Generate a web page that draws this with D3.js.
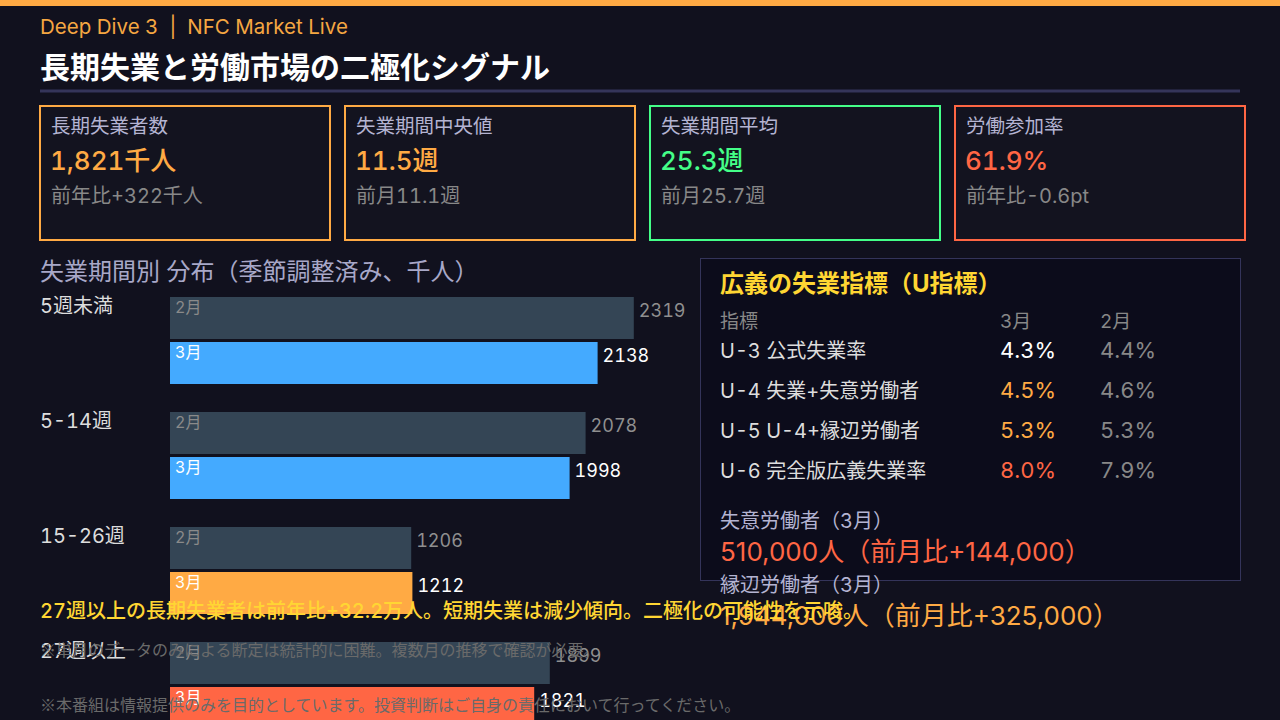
<!DOCTYPE html>
<html><head><meta charset="utf-8">
<script src="https://cdn.jsdelivr.net/npm/d3@7"></script>
<style>
html,body{margin:0;padding:0;background:#11111e;}
svg{display:block;font-family:Inter,'Noto Sans CJK JP','Noto Sans',sans-serif;font-variant-numeric:tabular-nums;}
.cjk{font-family:'Noto Sans CJK JP',sans-serif;}
.prop{font-variant-numeric:normal;}
</style></head>
<body>
<svg id="c" width="1280" height="720"></svg>
<script>
// ---- data ----
const categories = ["5週未満", "5-14週", "15-26週", "27週以上"];
const months = ["2月", "3月"];
const febValues = [2319, 2078, 1206, 1899];
const marValues = [2138, 1998, 1212, 1821];

const kpiLabels = ["長期失業者数", "失業期間中央値", "失業期間平均", "労働参加率"];
const kpiValues = ["1,821千人", "11.5週", "25.3週", "61.9%"];
const kpiSubs = ["前年比+322千人", "前月11.1週", "前月25.7週", "前年比-0.6pt"];

const uLabels = ["U-3 公式失業率", "U-4 失業+失意労働者", "U-5 U-4+縁辺労働者", "U-6 完全版広義失業率"];
const uMar = [4.3, 4.5, 5.3, 8.0];
const uFeb = [4.4, 4.6, 5.3, 7.9];

const extraLabels = ["失意労働者（3月）", "縁辺労働者（3月）"];
const extraValues = ["510,000人（前月比+144,000）", "1,944,000人（前月比+325,000）"];

// ---- styles ----
const ORANGE = "#ffaa44", GREEN = "#44ff88", RED = "#ff6644", BLUE = "#44aaff", YELLOW = "#ffd633";
const kpiColors = [ORANGE, ORANGE, GREEN, RED];
const marBarColors = [BLUE, BLUE, ORANGE, RED];
const uMarColors = ["#ffffff", ORANGE, ORANGE, RED];

const svg = d3.select("#c");
svg.append("rect").attr("width", 1280).attr("height", 720).attr("fill", "#11111e");
svg.append("rect").attr("width", 1280).attr("height", 6).attr("fill", ORANGE);

svg.append("text").attr("x", 40).attr("y", 34).attr("fill", "#f5a742")
  .attr("font-size", 20.5).style("white-space", "pre").text("Deep Dive 3  |  NFC Market Live");
svg.append("text").attr("x", 40).attr("y", 78).attr("fill", "#ffffff")
  .attr("font-size", 30).attr("font-weight", 700).text("長期失業と労働市場の二極化シグナル");
svg.append("rect").attr("x", 40).attr("y", 89.5).attr("width", 1200).attr("height", 3).attr("fill", "#35355a");

// ---- KPI cards ----
const cardX = d3.scaleBand().domain(d3.range(kpiLabels.length)).range([40, 1245]).paddingInner(15 / 305).paddingOuter(0);
const cards = svg.selectAll("g.card").data(kpiLabels).join("g").attr("class", "card")
  .attr("transform", (d, i) => `translate(${cardX(i)},106)`);
cards.append("rect").attr("width", cardX.bandwidth()).attr("height", 134)
  .attr("fill", "#13131f").attr("stroke", (d, i) => kpiColors[i]).attr("stroke-width", 2);
cards.append("text").attr("x", 11).attr("y", 27).attr("font-size", 19.5).attr("fill", "#b4b4d2").text(d => d);
cards.append("text").attr("x", 10).attr("y", 64).attr("font-size", 26).attr("font-weight", 500)
  .attr("fill", (d, i) => kpiColors[i]).text((d, i) => kpiValues[i]);
cards.append("text").attr("x", 11).attr("y", 97).attr("font-size", 20).attr("fill", "#888888").text((d, i) => kpiSubs[i]);

// ---- bar chart ----
svg.append("text").attr("x", 40).attr("y", 280).attr("font-size", 24).attr("fill", "#a8a8c8")
  .text("失業期間別 分布（季節調整済み、千人）");

const x = d3.scaleLinear().domain([0, 2500]).range([170, 670]);
const y = d3.scaleBand().domain(categories).range([297, 297 + 115 * categories.length]);
const sub = d3.scaleBand().domain(months).range([0, 87]).paddingInner(3 / 45);

const groups = svg.selectAll("g.grp").data(categories).join("g").attr("class", "grp")
  .attr("transform", d => `translate(0,${y(d)})`);
groups.append("text").attr("x", 40).attr("y", 16).attr("font-size", 20).attr("fill", "#dddddd").text(d => d);

groups.each(function (cat, i) {
  const g = d3.select(this);
  const rows = [
    { m: "2月", v: febValues[i], fill: "#344555", lab: "#8a8a8a", val: "#8f8f8f" },
    { m: "3月", v: marValues[i], fill: marBarColors[i], lab: "#ffffff", val: "#ffffff" }
  ];
  rows.forEach(r => {
    g.append("rect").attr("x", x(0)).attr("y", sub(r.m)).attr("width", x(r.v) - x(0))
      .attr("height", sub.bandwidth()).attr("fill", r.fill);
    g.append("text").attr("x", x(0) + 5).attr("y", sub(r.m) + 16).attr("font-size", 16)
      .attr("fill", r.lab).text(r.m);
    g.append("text").attr("x", x(r.v) + 5).attr("y", sub(r.m) + 20).attr("font-size", 18)
      .attr("fill", r.val).text(r.v);
  });
});

// ---- right panel ----
const panel = svg.append("g").attr("transform", "translate(700,258)");
panel.append("rect").attr("x", 0.5).attr("y", 0.5).attr("width", 540).attr("height", 322)
  .attr("fill", "#0c0c1b").attr("stroke", "#34345a").attr("stroke-width", 1);
panel.append("text").attr("x", 20).attr("y", 34).attr("font-size", 24).attr("font-weight", 700)
  .attr("fill", YELLOW).text("広義の失業指標（U指標）");
const colX = { label: 20, mar: 300, feb: 400 };
panel.append("text").attr("x", colX.label).attr("y", 70).attr("font-size", 19).attr("fill", "#888").text("指標");
panel.append("text").attr("x", colX.mar).attr("y", 70).attr("font-size", 19).attr("fill", "#888").text("3月");
panel.append("text").attr("x", colX.feb).attr("y", 70).attr("font-size", 19).attr("fill", "#888").text("2月");

const rowY = d3.scaleLinear().domain([0, 1]).range([100, 140]);
const fmt = d3.format(".1f");
uLabels.forEach((lab, i) => {
  panel.append("text").attr("x", colX.label).attr("y", rowY(i)).attr("font-size", 20).attr("fill", "#dddddd").text(lab);
  panel.append("text").attr("x", colX.mar).attr("y", rowY(i)).attr("font-size", 22).attr("fill", uMarColors[i]).text(fmt(uMar[i]) + "%");
  panel.append("text").attr("x", colX.feb).attr("y", rowY(i)).attr("font-size", 22).attr("fill", "#888").text(fmt(uFeb[i]) + "%");
});

const extraColors = [RED, ORANGE];
extraLabels.forEach((lab, i) => {
  panel.append("text").attr("x", 20).attr("y", 270 + i * 64).attr("font-size", 20).attr("fill", "#b4b4d2").text(lab);
  panel.append("text").attr("class", "prop").attr("x", 20).attr("y", 303 + i * 64).attr("font-size", 26).attr("fill", extraColors[i]).text(extraValues[i]);
});

// ---- bottom notes ----
svg.append("text").attr("x", 40).attr("y", 618).attr("font-size", 20).attr("font-weight", 500).attr("fill", YELLOW)
  .text("27週以上の長期失業者は前年比+32.2万人。短期失業は減少傾向。二極化の可能性を示唆。");
svg.append("text").attr("class", "cjk").attr("x", 40).attr("y", 656).attr("font-size", 16).attr("fill", "#6a6a6a")
  .text("※単月のデータのみによる断定は統計的に困難。複数月の推移で確認が必要。");
svg.append("text").attr("class", "cjk").attr("x", 40).attr("y", 711).attr("font-size", 16).attr("fill", "#6a6a6a")
  .text("※本番組は情報提供のみを目的としています。投資判断はご自身の責任において行ってください。");
</script>
</body></html>
